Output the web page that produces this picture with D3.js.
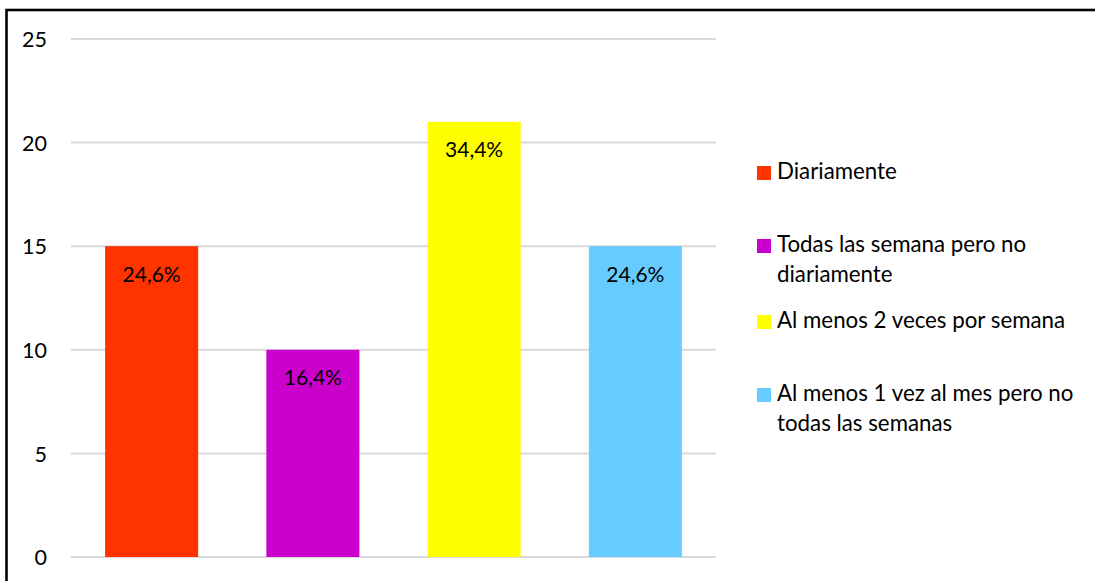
<!DOCTYPE html>
<html><head><meta charset="utf-8">
<script src="https://cdn.jsdelivr.net/npm/d3@7"></script>
<style>html,body{margin:0;padding:0;background:#fff;}svg{display:block;}</style>
</head><body>
<svg id="chart" width="1095" height="581"></svg>
<script>
const categories = ["Diariamente", "Todas las semana pero no diariamente", "Al menos 2 veces por semana", "Al menos 1 vez al mes pero no todas las semanas"];
const legendLines = [["Diariamente"], ["Todas las semana pero no", "diariamente"], ["Al menos 2 veces por semana"], ["Al menos 1 vez al mes pero no", "todas las semanas"]];
const values = [15, 10, 21, 15];
const pctLabels = ["24,6%", "16,4%", "34,4%", "24,6%"];
const colors = ["#FF3300", "#CC00CC", "#FFFF00", "#66CCFF"];
const yTicks = [0, 5, 10, 15, 20, 25];

const font = "Lato, 'Open Sans', sans-serif";
const svg = d3.select("#chart");

// outer border (cropped frame)
svg.append("rect").attr("x", 6.5).attr("y", 10).attr("width", 1300).attr("height", 800)
  .attr("fill", "none").attr("stroke", "#000").attr("stroke-width", 2.6);

const x = d3.scaleBand().domain(categories).range([71, 716]).paddingInner(0.423).paddingOuter(0.2115);
const y = d3.scaleLinear().domain([0, 25]).range([557, 39]);

// gridlines
svg.append("g").selectAll("line").data(yTicks).join("line")
  .attr("x1", 71).attr("x2", 716)
  .attr("y1", d => y(d)).attr("y2", d => y(d))
  .attr("stroke", "#d9d9d9").attr("stroke-width", 2);

// y axis labels
const yAxis = d3.axisLeft(y).tickValues(yTicks).tickSize(0).tickPadding(0);
const ga = svg.append("g").attr("transform", "translate(47,0)").call(yAxis);
ga.select(".domain").remove();
ga.selectAll("text").attr("font-family", font).attr("font-size", 21.5).attr("fill", "#000").attr("dy", "0.36em");

// bars
svg.append("g").selectAll("rect").data(categories).join("rect")
  .attr("x", d => x(d)).attr("width", x.bandwidth())
  .attr("y", (d, i) => y(values[i])).attr("height", (d, i) => y(0) - y(values[i]))
  .attr("fill", (d, i) => colors[i]);

// data labels
svg.append("g").selectAll("text").data(categories).join("text")
  .attr("x", d => x(d) + x.bandwidth() / 2)
  .attr("y", (d, i) => y(values[i]) + 35.5)
  .attr("text-anchor", "middle")
  .attr("font-family", font).attr("font-size", 21).attr("fill", "#000")
  .text((d, i) => pctLabels[i]);

// legend
const legendTops = [166, 239, 315, 388];
const lg = svg.append("g");
categories.forEach((c, i) => {
  lg.append("rect").attr("x", 757).attr("y", legendTops[i]).attr("width", 14).attr("height", 14).attr("fill", colors[i]);
  legendLines[i].forEach((ln, j) => {
    lg.append("text").attr("x", 777).attr("y", legendTops[i] + 13 + j * 29.5)
      .attr("font-family", font).attr("font-size", 22.3).attr("fill", "#000").text(ln);
  });
});
</script>
</body></html>
